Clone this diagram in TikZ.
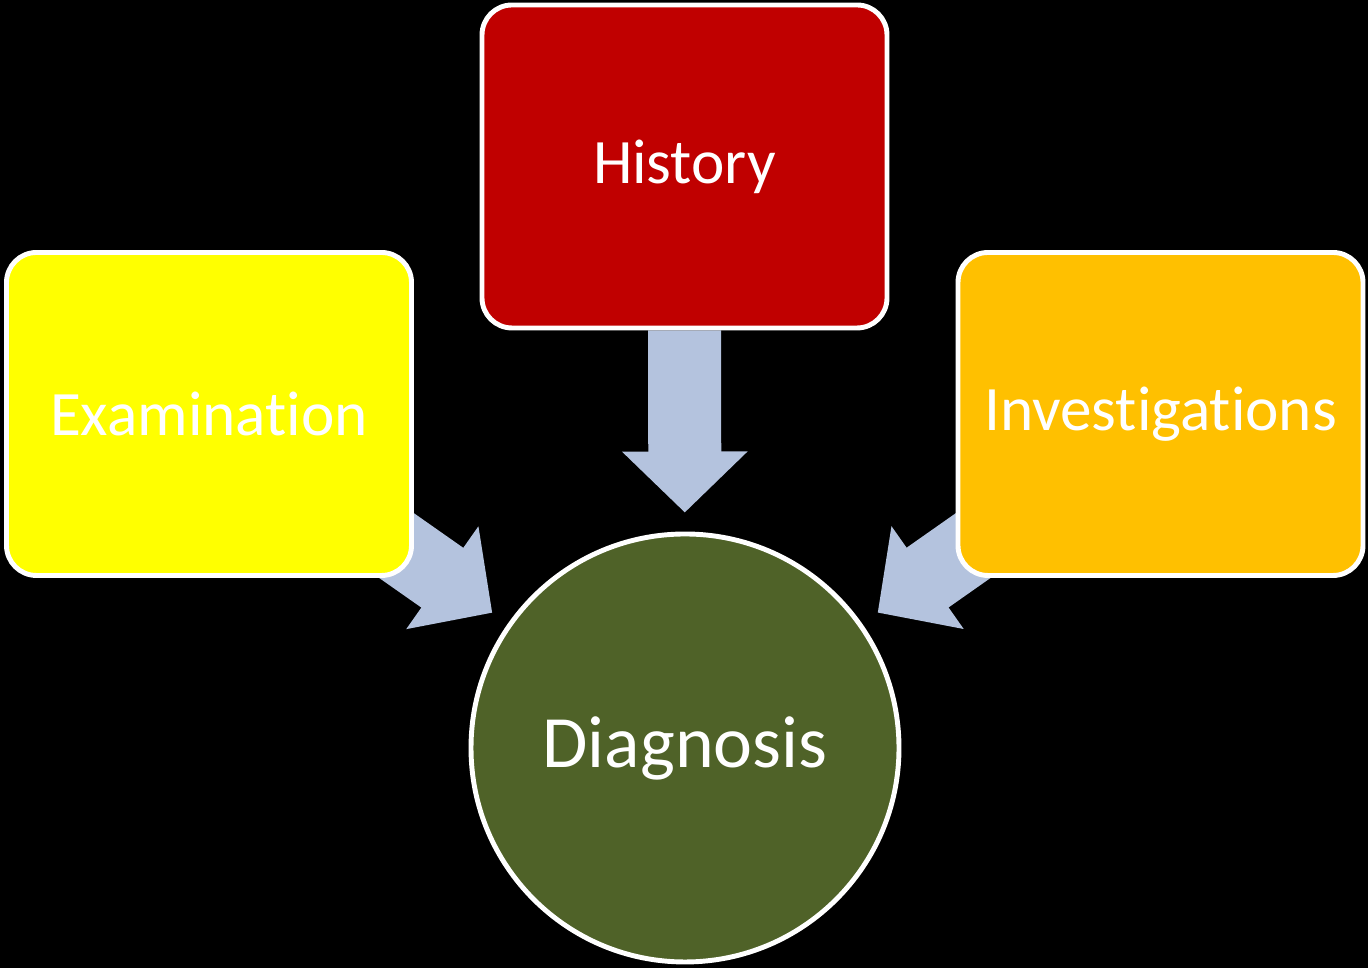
\documentclass[tikz,border=0pt]{standalone}
\usepackage{fontspec}
\setmainfont[Ligatures=NoCommon]{Carlito}
\usetikzlibrary{arrows.meta,backgrounds}
\definecolor{histred}{HTML}{C00000}
\definecolor{examyellow}{HTML}{FFFF00}
\definecolor{invamber}{HTML}{FFC000}
\definecolor{diaggreen}{HTML}{4F6228}
\definecolor{flowblue}{HTML}{B4C3DE}
\tikzset{
  card/.style={draw=white,line width=1.4pt,rounded corners=3mm,fill=#1,text=white,
               minimum width=4.05cm,minimum height=3.23cm,inner sep=0pt,
               font=\fontsize{18}{22}\selectfont},
  hub/.style={circle,draw=white,line width=1.4pt,fill=diaggreen,text=white,
              minimum size=4.28cm,inner sep=0pt,font=\fontsize{21}{25}\selectfont},
  flow/.style={draw=flowblue,line width=7.3mm,shorten >=1.9mm,
               -{Triangle[width=12.2mm,length=6.1mm]}},
}
\begin{document}
\begin{tikzpicture}
  \useasboundingbox (0,0) rectangle (13.68,9.68);
  \node[card=histred] (hist) at (6.845,8.015) {History};
  \node[card=examyellow] (exam) at (2.09,5.54) {Examination};
  \node[card=invamber] (inv) at (11.605,5.54) {Investigations};
  \node[hub] (diag) at (6.85,2.20) {Diagnosis};
  \begin{scope}[on background layer]
    \fill[black] (0,0) rectangle (13.68,9.68);
    \draw[flow] (hist) -- (diag);
    \draw[flow] (exam.center) -- (diag);
    \draw[flow] (inv.center) -- (diag);
  \end{scope}
\end{tikzpicture}
\end{document}
